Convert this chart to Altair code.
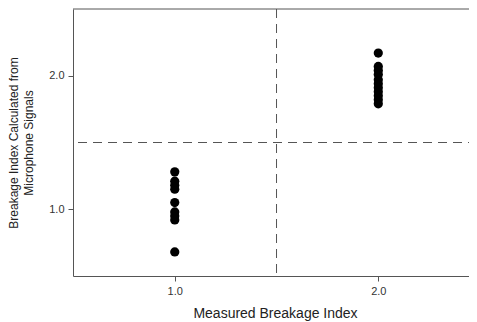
import altair as alt
import pandas as pd

measured_1 = [1.0] * 9
calc_1 = [1.28, 1.21, 1.18, 1.15, 1.05, 0.98, 0.95, 0.92, 0.68]
measured_2 = [2.0] * 11
calc_2 = [2.17, 2.07, 2.04, 2.01, 1.97, 1.94, 1.91, 1.88, 1.85, 1.82, 1.79]

x_ticks = [1.0, 2.0]
y_ticks = [1.0, 2.0]
threshold_x = 1.5
threshold_y = 1.5

df = pd.DataFrame({
    "measured": measured_1 + measured_2,
    "calc": calc_1 + calc_2,
})

FONT = "Liberation Sans"
AX = "#555555"
DASH = "#555555"

xscale = alt.Scale(domain=[0.5, 2.485], nice=False, zero=False)
yscale = alt.Scale(domain=[0.5, 2.5], nice=False, zero=False)

points = alt.Chart(df).mark_circle(size=85, color="black", opacity=1).encode(
    x=alt.X("measured:Q", scale=xscale,
            axis=alt.Axis(title="Measured Breakage Index", values=x_ticks, format=".1f",
                          grid=False, tickSize=5, labelPadding=4, titlePadding=10,
                          titleFontSize=14)),
    y=alt.Y("calc:Q", scale=yscale,
            axis=alt.Axis(title=["Breakage Index Calculated from", "Microphone Signals"],
                          values=y_ticks, format=".1f", grid=False, tickSize=5,
                          labelPadding=4, titlePadding=13, titleFontSize=12,
                          titleLineHeight=15)),
)

vline = alt.Chart(pd.DataFrame({"x": [threshold_x]})).mark_rule(
    color=DASH, strokeDash=[9, 6], strokeWidth=1).encode(x=alt.X("x:Q", scale=xscale))
hline = alt.Chart(pd.DataFrame({"y": [threshold_y]})).mark_rule(
    color=DASH, strokeDash=[9, 6], strokeWidth=1).encode(y=alt.Y("y:Q", scale=yscale))
topline = alt.Chart(pd.DataFrame({"y": [2.5]})).mark_rule(
    color=AX, strokeWidth=1).encode(y=alt.Y("y:Q", scale=yscale))

chart = alt.layer(vline, hline, topline, points).properties(
    width=404, height=267,
    autosize=alt.AutoSizeParams(type="none"),
    padding={"left": 65, "top": 1, "right": -8, "bottom": 45},
).configure_view(strokeWidth=0).configure_axis(
    domainColor=AX, tickColor=AX, labelColor="#333333", titleColor="#222222",
    labelFont=FONT, titleFont=FONT, labelFontSize=11,
    titleFontWeight="normal", labelFontWeight="normal",
)

chart.save("out.html", embed_options={"renderer": "svg", "actions": False})
